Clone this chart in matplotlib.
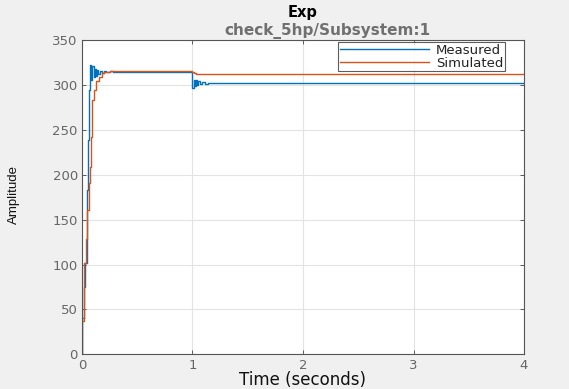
import matplotlib
matplotlib.use("Agg")
import matplotlib.pyplot as plt

# Measured response
t_meas = [0, 0.005, 0.02, 0.03, 0.045, 0.055, 0.065, 0.075, 0.085, 0.095, 0.105,
          0.115, 0.125, 0.135, 0.145, 0.16, 0.18, 0.2, 0.22, 0.25, 0.28, 0.32,
          0.36, 0.40, 0.45, 1.0, 1.01, 1.02, 1.03, 1.04, 1.05, 1.07, 1.09, 1.11,
          1.14, 1.17, 1.2, 4.0]
y_meas = [0, 40, 75, 102, 183, 239, 294, 322, 305, 321, 309, 318, 310, 317, 312,
          316, 313, 315.5, 314, 315, 314.3, 314.8, 314.5, 314.6, 314.5, 297, 306,
          299, 305, 300, 304, 301, 303, 301.5, 302.5, 302, 302, 302]

# Simulated response
t_sim = [0, 0.005, 0.02, 0.04, 0.05, 0.06, 0.07, 0.08, 0.095, 0.11, 0.13, 0.15,
         0.18, 0.2, 0.25, 1.0, 1.01, 1.02, 1.03, 1.05, 4.0]
y_sim = [0, 37, 102, 128, 161, 191, 209, 242, 283, 294, 304, 309, 313, 314.5,
         315, 314.5, 313.5, 312.8, 312.3, 312, 312]

xticks = [0, 1, 2, 3, 4]
yticks = [0, 50, 100, 150, 200, 250, 300, 350]

fig = plt.figure(figsize=(5.69, 3.89), dpi=100, facecolor="#f0f0f0")
ax = fig.add_axes([0.144, 0.089, 0.777, 0.808])
ax.set_facecolor("white")

ax.plot(t_meas, y_meas, color="#0072BD", lw=1.0, drawstyle="steps-post", label="Measured")
ax.plot(t_sim, y_sim, color="#D95319", lw=1.0, drawstyle="steps-post", label="Simulated")

ax.set_xlim(0, 4)
ax.set_ylim(0, 350)
ax.set_xticks(xticks)
ax.set_yticks(yticks)
ax.grid(True, color="#e3e3e3", lw=0.8)
ax.set_axisbelow(True)
ax.tick_params(direction="in", top=True, right=True, length=3, width=0.6,
               labelsize=9.5, labelcolor="#666666", color="#444444", pad=3)
for s in ax.spines.values():
    s.set_color("#555555")
    s.set_linewidth(0.8)

ax.set_xlabel("Time (seconds)", fontsize=12, color="#111111", va="center")
ax.xaxis.set_label_coords(0.5, -0.082)
ax.set_ylabel("Amplitude", fontsize=9.5, color="#111111", va="center",
              family=["Liberation Sans Narrow", "Liberation Sans", "DejaVu Sans"])
ax.yaxis.set_label_coords(-0.154, 0.508)
fig.text(0.532, 0.967, "Exp", ha="center", va="center", fontsize=10.5, fontweight="bold")
fig.text(0.575, 0.920, "check_5hp/Subsystem:1", ha="center", va="center",
         fontsize=11, color="#707070", fontweight="bold")

leg = ax.legend(loc="upper right", bbox_to_anchor=(0.957, 0.994), fontsize=9.5,
                handlelength=6.8, frameon=True, fancybox=False, borderaxespad=0.0,
                borderpad=0.12, labelspacing=0.0, handletextpad=0.5)
leg.get_frame().set_edgecolor("#333333")
leg.get_frame().set_linewidth(0.8)
for txt in leg.get_texts():
    txt.set_color("#222222")

fig.savefig("out.png", dpi=100, facecolor=fig.get_facecolor())
